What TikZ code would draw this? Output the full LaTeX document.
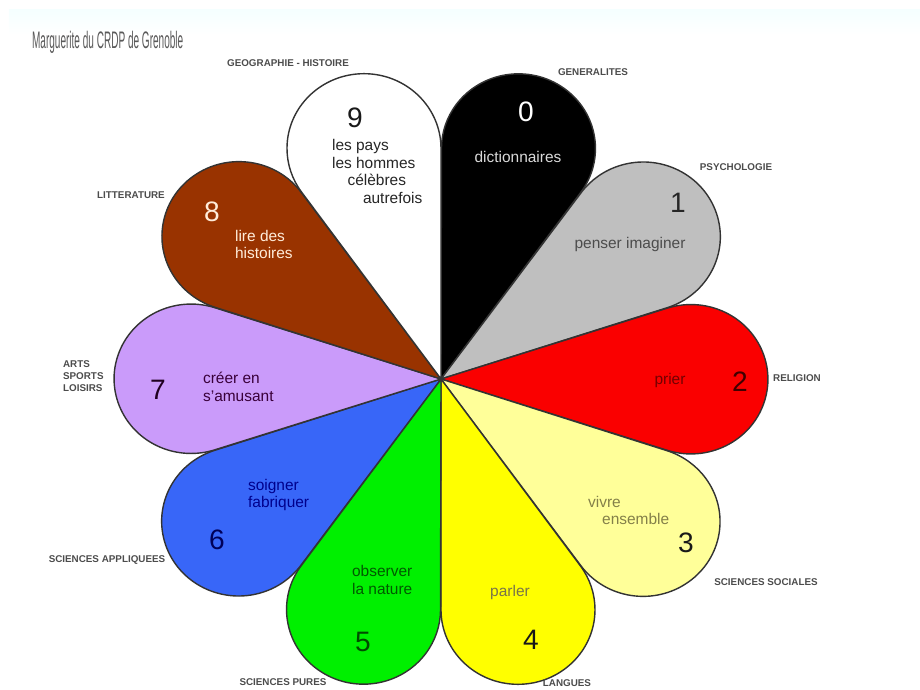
\documentclass[tikz,border=0pt]{standalone}
\usepackage{fontspec}
\setmainfont{Liberation Sans}
\definecolor{petalgray}{HTML}{BFBFBF}
\definecolor{petalred}{HTML}{FA0000}
\definecolor{petalcream}{HTML}{FFFF99}
\definecolor{petalyellow}{HTML}{FFFF00}
\definecolor{petalgreen}{HTML}{00F000}
\definecolor{petalblue}{HTML}{3866F8}
\definecolor{petallilac}{HTML}{CA9BFA}
\definecolor{petalbrown}{HTML}{993300}

\begin{document}
\begin{tikzpicture}[semithick,
    petal/.style={draw=black!80, line width=1pt},
    cat/.style={font=\fontsize{7}{8.5}\selectfont\bfseries, text=black!70, align=left},
    num/.style={font=\fontsize{20}{20}\selectfont},
    word/.style={font=\fontsize{11}{12.5}\selectfont, align=left}]
    \useasboundingbox (-11.025, -7.75) rectangle (11.975, 9.475);
    \shade[top color=cyan!4, bottom color=white] (-10.8, 9.225) rectangle (11.975, 8.6);
    \node[anchor=west, text=black!65, font=\fontsize{17}{17}\selectfont] (title) at (-10.35, 8.425) {\scalebox{0.42}[1]{Marguerite du CRDP de Grenoble}};
    % les dix petales
    \begin{scope}[yscale=0.97]
        \filldraw[petal, fill=black] (0, 0) -- (54:5.944) arc[start angle=-36, end angle=180, radius=1.925] -- cycle;
        \filldraw[petal, fill=petalgray] (0, 0) -- (18:5.944) arc[start angle=-72, end angle=144, radius=1.925] -- cycle;
        \filldraw[petal, fill=petalred] (0, 0) -- (-18:5.944) arc[start angle=-108, end angle=108, radius=1.925] -- cycle;
        \filldraw[petal, fill=petalcream] (0, 0) -- (-54:5.944) arc[start angle=-144, end angle=72, radius=1.925] -- cycle;
        \filldraw[petal, fill=petalyellow] (0, 0) -- (-90:5.944) arc[start angle=-180, end angle=36, radius=1.925] -- cycle;
        \filldraw[petal, fill=petalgreen] (0, 0) -- (-126:5.944) arc[start angle=-216, end angle=0, radius=1.925] -- cycle;
        \filldraw[petal, fill=petalblue] (0, 0) -- (-162:5.944) arc[start angle=-252, end angle=-36, radius=1.925] -- cycle;
        \filldraw[petal, fill=petallilac] (0, 0) -- (162:5.944) arc[start angle=72, end angle=288, radius=1.925] -- cycle;
        \filldraw[petal, fill=petalbrown] (0, 0) -- (126:5.944) arc[start angle=36, end angle=252, radius=1.925] -- cycle;
        \filldraw[petal, fill=white] (0, 0) -- (90:5.944) arc[start angle=0, end angle=216, radius=1.925] -- cycle;
    \end{scope}
    % numeros
    \node[num, text=white] (n0) at (2.125, 6.675) {0};
    \node[num, text=black!85] (n1) at (5.925, 4.4) {1};
    \node[num, text=black!75!red] (n2) at (7.475, -0.075) {2};
    \node[num, text=black!90] (n3) at (6.125, -4.1) {3};
    \node[num, text=black!90] (n4) at (2.25, -6.525) {4};
    \node[num, text=black!70!green] (n5) at (-1.95, -6.575) {5};
    \node[num, text=black!65!blue] (n6) at (-5.6, -4.025) {6};
    \node[num, text=black!75!violet] (n7) at (-7.075, -0.275) {7};
    \node[num, text=orange!15] (n8) at (-5.725, 4.175) {8};
    \node[num, text=black!90] (n9) at (-2.15, 6.525) {9};
    % textes
    \node[word, text=white!85!black] (t0) at (1.925, 5.55) {dictionnaires};
    \node[word, text=black!70] (t1) at (4.725, 3.35) {penser imaginer};
    \node[word, text=black!55!red] (t2) at (5.725, -0.025) {prier};
    \node[word, text=black!55!yellow, anchor=west] (t3) at (3.55, -3.29) {vivre\\\hspace*{10pt}ensemble};
    \node[word, text=black!60!yellow] (t4) at (1.725, -5.325) {parler};
    \node[word, text=black!65!green, anchor=west] (t5) at (-2.35, -5.025) {observer\\la nature};
    \node[word, text=black!45!blue, anchor=west] (t6) at (-4.95, -2.9) {soigner\\fabriquer};
    \node[word, text=black!55!violet, anchor=west] (t7) at (-6.075, -0.19) {créer en\\s'amusant};
    \node[word, text=orange!15, anchor=west] (t8) at (-5.275, 3.36) {lire des\\histoires};
    \node[word, text=black!85, anchor=west] (t9) at (-2.85, 5.19) {les pays\\les hommes\\\hspace*{11pt}célèbres\\\hspace*{22pt}autrefois};
    % domaines
    \node[cat] (geo) at (-3.825, 7.9) {GEOGRAPHIE - HISTOIRE};
    \node[cat] (gen) at (3.8, 7.675) {GENERALITES};
    \node[cat] (psy) at (7.375, 5.3) {PSYCHOLOGIE};
    \node[cat] (lit) at (-7.75, 4.6) {LITTERATURE};
    \node[cat, anchor=west] (arts) at (-9.575, 0.075) {ARTS\\SPORTS\\LOISIRS};
    \node[cat] (rel) at (8.9, 0.025) {RELIGION};
    \node[cat] (appl) at (-8.35, -4.525) {SCIENCES APPLIQUEES};
    \node[cat] (soc) at (8.125, -5.075) {SCIENCES SOCIALES};
    \node[cat] (pures) at (-3.95, -7.58) {SCIENCES PURES};
    \node[cat] (lang) at (3.15, -7.6) {LANGUES};
\end{tikzpicture}
\end{document}
